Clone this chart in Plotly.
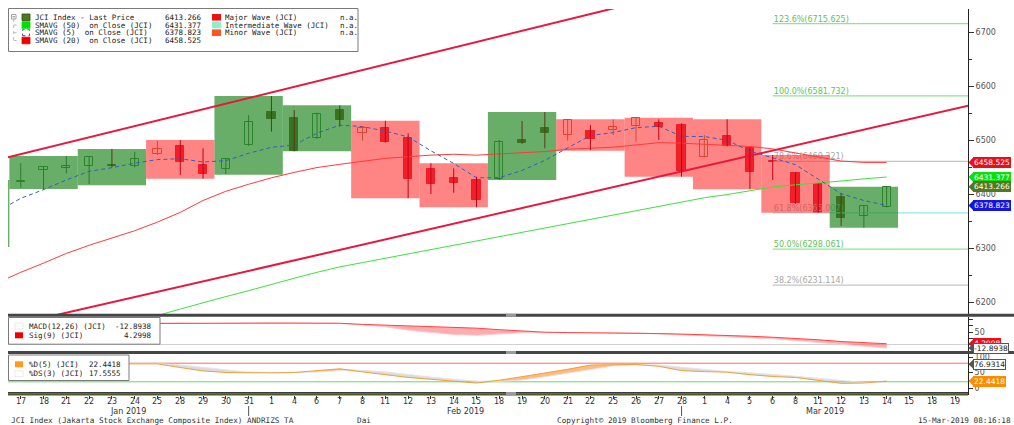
import numpy as np
import plotly.graph_objects as go

# ---------------- data ----------------
axis_days = ["17", "18", "21", "22", "23", "24", "25", "28", "29", "30", "31",
             "1", "4", "6", "7", "8", "11", "12", "13", "14", "15", "18", "19",
             "20", "21", "22", "25", "26", "27", "28",
             "1", "4", "5", "6", "8", "11", "12", "13", "14", "15", "18", "19"]

series_dates = ["2019-01-16", "2019-01-17", "2019-01-18", "2019-01-21", "2019-01-22",
                "2019-01-23", "2019-01-24", "2019-01-25", "2019-01-28", "2019-01-29",
                "2019-01-30", "2019-01-31", "2019-02-01", "2019-02-04", "2019-02-06",
                "2019-02-07", "2019-02-08", "2019-02-11", "2019-02-12", "2019-02-13",
                "2019-02-14", "2019-02-15", "2019-02-18", "2019-02-19", "2019-02-20",
                "2019-02-21", "2019-02-22", "2019-02-25", "2019-02-26", "2019-02-27",
                "2019-02-28", "2019-03-01", "2019-03-04", "2019-03-05", "2019-03-06",
                "2019-03-08", "2019-03-11", "2019-03-12", "2019-03-13", "2019-03-14"]

# candles: 2019-01-17 .. 2019-03-14
candle_open = [6423, 6444.4, 6449, 6452, 6452.5, 6451.9, 6473.5, 6488.9, 6453.1, 6445.7,
               6490.7, 6551.9, 6540.1, 6503.1, 6555.6, 6512.3, 6522.8, 6503.1, 6445.7, 6429.1,
               6425.9, 6427.8, 6500, 6521.6, 6509.3, 6517.2, 6518.5, 6526.5, 6532, 6527.8,
               6468, 6507.4, 6484.6, 6461.1, 6439.5, 6418.5, 6395, 6359.3, 6375.3]
candle_high = [6457, 6451.9, 6470.4, 6470, 6483.3, 6478.3, 6498.1, 6500, 6484.6, 6465,
               6546.3, 6581.5, 6555.6, 6550.6, 6564.3, 6525.9, 6535.7, 6512.3, 6456.9, 6447.5,
               6432, 6500, 6535.2, 6551.9, 6538.3, 6527.8, 6538.3, 6541.3, 6538.3, 6530.9,
               6509.3, 6538.3, 6484.6, 6472.2, 6440, 6419, 6401.2, 6378, 6413.5]
candle_low = [6412, 6407.4, 6438.3, 6418.5, 6449.4, 6449.4, 6472.2, 6435.2, 6428.4, 6437,
              6489, 6515.4, 6479.1, 6502, 6524.7, 6498.8, 6495, 6392, 6400, 6402.4,
              6375.4, 6426, 6493, 6484.6, 6498.8, 6481.5, 6509.3, 6496.9, 6500, 6432,
              6468, 6488, 6408.7, 6425.9, 6382, 6365.4, 6340.7, 6337.6, 6375]
candle_close = [6424, 6449.4, 6451, 6468, 6451.5, 6465.4, 6482.8, 6459.3, 6437, 6464.2,
                6533.9, 6538.3, 6480.2, 6547.5, 6537, 6521.6, 6495.7, 6427.2, 6418.5, 6419.8,
                6388.9, 6496.9, 6493.8, 6512.3, 6537, 6501.3, 6524, 6540.1, 6524.7, 6443.2,
                6500, 6488.9, 6441.3, 6458.7, 6382.8, 6365.4, 6355, 6377.8, 6413.3]

# 3-day range boxes (first one is the partly visible group before the window)
box_high = [6426, 6470.4, 6483.3, 6500, 6581.5, 6564.3, 6535.7, 6456.9, 6551.9, 6538.3,
            6541.3, 6538.3, 6472.2, 6413.5]
box_low = [6302, 6409.3, 6416.1, 6428.3, 6435.7, 6479.1, 6392.0, 6375.4, 6425.9, 6480.2,
           6432.0, 6408.7, 6365.4, 6337.6]
box_up = [1, 1, 1, 0, 1, 1, 0, 0, 1, 0, 0, 0, 0, 1]

sma5 = [6368, 6392, 6408, 6426, 6442, 6448.8, 6457.1, 6463.7, 6465.4, 6459.2,
        6461.7, 6475.4, 6486.5, 6490.7, 6512.8, 6527.4, 6524.9, 6516.4, 6505.8, 6480.0,
        6456.6, 6430.0, 6430.3, 6443.6, 6462.3, 6485.8, 6508.3, 6513.7, 6522.9, 6525.4,
        6506.7, 6506.4, 6499.4, 6479.6, 6466.4, 6454.3, 6427.4, 6400.6, 6387.9, 6378.8]
sma20 = [6236, 6255, 6272, 6290, 6305, 6318, 6332, 6348, 6366, 6388,
         6405, 6418, 6430, 6440, 6449, 6455, 6461, 6466, 6469, 6472,
         6473.6, 6471.9, 6474.2, 6476.4, 6478.6, 6482.9, 6484.7, 6486.7, 6490.8, 6495.1,
         6494.1, 6492.4, 6489.9, 6488.0, 6483.5, 6475.8, 6468.0, 6461.0, 6458.5, 6458.5]
sma50 = [6097, 6108, 6119, 6130, 6142, 6153, 6164, 6175, 6187, 6199,
         6210, 6221, 6233, 6244, 6255, 6265, 6273, 6281, 6289, 6297,
         6304, 6312, 6320, 6329, 6337, 6345, 6353, 6361, 6369, 6377,
         6385, 6393, 6399, 6406, 6413, 6417, 6420, 6424, 6428, 6431.4]

macd = [84, 84.5, 85, 85.5, 86, 86.5, 87, 87.5, 86.5, 85,
        84.5, 86, 87, 86, 86.5, 84.5, 79, 72, 58, 48,
        41, 38, 44, 48, 48.5, 49, 48.5, 47.5, 47, 43,
        38, 36, 33, 28, 24, 17, 9, 1, -5, -12.8938]
macd_sig = [83, 83.5, 84, 84.5, 85, 85.5, 86, 86.5, 86.5, 86,
            85.5, 85.5, 86, 86, 86, 85.5, 81, 78.5, 76, 73.5,
            71, 66, 60, 54, 50, 48.5, 48, 47, 46, 44.5,
            42.5, 40.5, 38, 34, 30, 26, 20, 13, 8, 4.2998]

stoch_d = [78, 78, 78, 78.5, 79, 79, 78.5, 78, 66, 55,
           50, 49, 49, 50, 56, 62, 52, 42, 34, 28,
           22, 16, 25, 36, 48, 60, 74, 76, 76, 70,
           56, 53, 51, 43, 37, 34, 24, 15, 16, 22.4418]
stoch_ds = [78.5, 78.5, 78, 78, 78.5, 79, 79, 78.5, 74, 66,
            57, 51, 49.5, 49.3, 51.5, 56, 57, 52, 43, 35,
            28, 22, 21, 26, 36, 48, 61, 71, 75, 74,
            67, 60, 53, 49, 44, 38, 31, 24, 18, 17.5555]
stoch_levels = [80, 20]

# trend channel anchors (index position, price)
chan_up_x, chan_up_y = [-1, 30], [6463.4, 6785.2]
chan_lo_x, chan_lo_y = [1, 42], [6170.5, 6567.7]

fib_pct = ["123.6%", "100.0%", "78.6%", "61.8%", "50.0%", "38.2%"]
fib_val = [6715.625, 6581.732, 6460.321, 6365.007, 6298.061, 6231.114]
fib_kind = ["g", "g", "k", "c", "g", "k"]
fib_start = 33

last_price, last_sma50, last_sma5, last_sma20 = 6413.266, 6431.377, 6378.823, 6458.525

# ---------------- helpers ----------------
L, R, T, B = 8, 968, 9, 395


def PX(px):
    return (px - L) / (R - L)


def PY(py):
    return (B - py) / (B - T)


xs = np.arange(len(series_dates)) - 1
MONO = "DejaVu Sans Mono"
SANS = "DejaVu Sans"

fig = go.Figure()

# fib levels
fib_line_col = {"g": "#8ee68e", "k": "#c4c4c4", "c": "#90e8e8"}
fib_txt_col = {"g": "#5cc45c", "k": "#a8a8a8", "c": "#a8a8a8"}
for p, v, k in zip(fib_pct, fib_val, fib_kind):
    fig.add_trace(go.Scatter(x=[fib_start, 42], y=[v, v], mode="lines",
                             line=dict(color=fib_line_col[k], width=1.3),
                             yaxis="y", hoverinfo="skip", showlegend=False))
    fig.add_trace(go.Scatter(x=[fib_start + 0.05], y=[v], mode="text",
                             text=[f"{p}({v:.3f})"], textposition="top right",
                             textfont=dict(family=SANS, size=8, color=fib_txt_col[k]),
                             yaxis="y", hoverinfo="skip", showlegend=False))

# boxes
for k in range(len(box_high)):
    g = k - 1
    x0, x1 = 3 * g - 0.5, 3 * g + 2.5
    col = "rgba(40,140,40,0.7)" if box_up[k] else "rgba(255,50,50,0.6)"
    fig.add_trace(go.Scatter(x=[x0, x1, x1, x0, x0],
                             y=[box_low[k], box_low[k], box_high[k], box_high[k], box_low[k]],
                             mode="lines", fill="toself", fillcolor=col,
                             line=dict(width=0), yaxis="y", hoverinfo="skip", showlegend=False))

# moving averages
fig.add_trace(go.Scatter(x=xs, y=sma20, mode="lines", line=dict(color="#ff3a3a", width=1),
                         yaxis="y", showlegend=False))
fig.add_trace(go.Scatter(x=xs, y=sma50, mode="lines", line=dict(color="#3ee03e", width=1),
                         yaxis="y", showlegend=False))
# channel
fig.add_trace(go.Scatter(x=chan_up_x, y=chan_up_y, mode="lines",
                         line=dict(color="#e8173e", width=2), yaxis="y", showlegend=False))
fig.add_trace(go.Scatter(x=chan_lo_x, y=chan_lo_y, mode="lines",
                         line=dict(color="#e8173e", width=2), yaxis="y", showlegend=False))
fig.add_trace(go.Scatter(x=xs, y=sma5, mode="lines",
                         line=dict(color="#3a5cb8", width=1, dash="4px,3px"),
                         yaxis="y", showlegend=False))

# candles
cat_style = {
    "gu": ("#2e7a2e", "rgba(0,0,0,0)"),
    "gd": ("#5a3a12", "#5c3b12"),
    "ru": ("#c85034", "rgba(0,0,0,0)"),
    "rd": ("#c4001a", "#e0001a"),
}
cats = {c: [] for c in cat_style}
for i in range(len(candle_open)):
    green = box_up[i // 3 + 1]
    up = candle_close[i] >= candle_open[i]
    key = ("g" if green else "r") + ("u" if up else "d")
    cats[key].append(i)

for key, idx in cats.items():
    lc, fc = cat_style[key]
    wx, wy = [], []
    for i in idx:
        wx += [i, i, None]
        wy += [candle_low[i], candle_high[i], None]
    fig.add_trace(go.Scatter(x=wx, y=wy, mode="lines", line=dict(color=lc, width=1),
                             yaxis="y", hoverinfo="skip", showlegend=False))
for key, idx in cats.items():
    lc, fc = cat_style[key]
    base = [min(candle_open[i], candle_close[i]) for i in idx]
    hgt = [max(abs(candle_close[i] - candle_open[i]), 1.5) for i in idx]
    fig.add_trace(go.Bar(x=list(idx), y=hgt, base=base, width=0.36,
                         marker=dict(color=fc, line=dict(color=lc, width=1)),
                         yaxis="y", showlegend=False, hoverinfo="skip"))

# MACD panel
fig.add_trace(go.Scatter(x=xs, y=macd_sig, mode="lines", line=dict(width=0, color="#ff4040"),
                         yaxis="y2", showlegend=False, hoverinfo="skip"))
fig.add_trace(go.Scatter(x=xs, y=macd, mode="lines", line=dict(width=0, color="#ffd0d0"),
                         fill="tonexty", fillcolor="rgba(255,90,100,0.5)",
                         yaxis="y2", showlegend=False, hoverinfo="skip"))
fig.add_trace(go.Scatter(x=xs, y=macd, mode="lines", line=dict(width=1, color="#ffc8c8"),
                         yaxis="y2", showlegend=False))
fig.add_trace(go.Scatter(x=xs, y=macd_sig, mode="lines", line=dict(width=1, color="#ff4444"),
                         yaxis="y2", showlegend=False))

# Stochastic panel
sd = np.array(stoch_d)
sds = np.array(stoch_ds)
fig.add_trace(go.Scatter(x=xs, y=sds, mode="lines", line=dict(width=0), yaxis="y3",
                         showlegend=False, hoverinfo="skip"))
fig.add_trace(go.Scatter(x=xs, y=np.maximum(sd, sds), mode="lines", line=dict(width=0),
                         fill="tonexty", fillcolor="rgba(255,150,60,0.65)", yaxis="y3",
                         showlegend=False, hoverinfo="skip"))
fig.add_trace(go.Scatter(x=xs, y=sds, mode="lines", line=dict(width=0), yaxis="y3",
                         showlegend=False, hoverinfo="skip"))
fig.add_trace(go.Scatter(x=xs, y=np.minimum(sd, sds), mode="lines", line=dict(width=0),
                         fill="tonexty", fillcolor="rgba(190,190,190,0.55)", yaxis="y3",
                         showlegend=False, hoverinfo="skip"))
fig.add_trace(go.Scatter(x=xs, y=sds, mode="lines", line=dict(width=1, color="#e4e4e4"),
                         yaxis="y3", showlegend=False))
fig.add_trace(go.Scatter(x=xs, y=sd, mode="lines", line=dict(width=1, color="#f0a040"),
                         yaxis="y3", showlegend=False))

# ---------------- layout ----------------
shapes = []
annotations = []

# stochastic reference levels
for lv, col in zip(stoch_levels, ["#ff6a6a", "#6ad86a"]):
    shapes.append(dict(type="line", xref="paper", yref="y3", x0=0, x1=1, y0=lv, y1=lv,
                       line=dict(color=col, width=1), layer="below"))


def rect(x0, y0, x1, y1, fill, line_col=None, lw=0, dash=None):
    ln = dict(width=lw, color=line_col or fill)
    if dash:
        ln["dash"] = dash
    shapes.append(dict(type="rect", xref="paper", yref="paper", x0=PX(x0), x1=PX(x1),
                       y0=PY(y1), y1=PY(y0), fillcolor=fill, line=ln, layer="above"))


def txt(x, y, s, size=7.5, anchor="left", color="#222", family=MONO):
    annotations.append(dict(xref="paper", yref="paper", x=PX(x), y=PY(y), text=s,
                            showarrow=False, xanchor=anchor, yanchor="middle",
                            font=dict(family=family, size=size, color=color)))


# panel separators
rect(8, 313.8, 1014, 316.8, "#454545")
rect(8, 351.0, 1014, 354.0, "#454545")
rect(8, 392.0, 968, 393.8, "#3c3c3c")
rect(8, 393.8, 968, 395.4, "#4e5a2a")
for yy in [(313.8, 316.8), (351.0, 354.0), (392.0, 395.4)]:
    rect(506, yy[0], 516, yy[1], "#9a9a9a")

# main legend
rect(8.5, 8.5, 358, 51.5, "white", "#7a7a7a", 1)
rect(11.5, 14.5, 16, 19, "white", "#8a8a8a", 0.8)
shapes.append(dict(type="line", xref="paper", yref="paper", x0=PX(12.5), x1=PX(15),
                   y0=PY(16.8), y1=PY(16.8), line=dict(color="#666", width=0.8), layer="above"))
shapes.append(dict(type="line", xref="paper", yref="paper", x0=PX(13.7), x1=PX(13.7),
                   y0=PY(19), y1=PY(40.5), line=dict(color="#aaa", width=0.8, dash="dot"),
                   layer="above"))
rows = [17.3, 25.0, 32.7, 40.5]
for r in rows[1:]:
    shapes.append(dict(type="line", xref="paper", yref="paper", x0=PX(13.7), x1=PX(20),
                       y0=PY(r), y1=PY(r), line=dict(color="#aaa", width=0.8, dash="dot"),
                       layer="above"))
left_items = [("#4d7a1f", "JCI Index - Last Price", f"{last_price:.3f}"),
              ("#00e000", "SMAVG (50)  on Close (JCI)", f"{last_sma50:.3f}"),
              (None, "SMAVG (5)  on Close (JCI)", f"{last_sma5:.3f}"),
              ("#ee0000", "SMAVG (20)  on Close (JCI)", f"{last_sma20:.3f}")]
for r, (c, s, v) in zip(rows, left_items):
    if c is None:
        rect(22.5, r - 3, 29.5, r + 3, "rgba(0,0,0,0)", "#3050d0", 1, "dot")
    else:
        rect(22, r - 3.3, 30, r + 3.3, c, "#2a4a10" if c == "#4d7a1f" else c, 0.8)
    txt(33, r, s)
    txt(163, r, v)
right_items = [("#ee1111", "Major Wave (JCI)"),
               ("#8eeecc", "Intermediate Wave (JCI)"),
               ("#ff5522", "Minor Wave (JCI)")]
for r, (c, s) in zip(rows, right_items):
    rect(212, r - 3.3, 221, r + 3.3, c)
    txt(223, r, s)
    txt(338, r, "n.a.")

# MACD legend
rect(8.5, 317.5, 160, 344.2, "white", "#7a7a7a", 1)
rect(15, 323, 23, 329, "white", "#dddddd", 0.6)
rect(15, 332.3, 23, 338.3, "#ee0000")
txt(27, 326, "MACD(12,26) (JCI)")
txt(154, 326, f"{macd[-1]:.4f}", anchor="right")
txt(27, 335.3, "Sig(9) (JCI)")
txt(154, 335.3, f"{macd_sig[-1]:.4f}", anchor="right")

# stoch legend
rect(8.5, 355.0, 129, 380.5, "white", "#7a7a7a", 1)
rect(15, 361.3, 23, 367.3, "#ff9a1a")
rect(15, 370.7, 23, 376.7, "white", "#dddddd", 0.6)
txt(27, 364.3, "%D(5) (JCI)")
txt(123, 364.3, f"{stoch_d[-1]:.4f}", anchor="right")
txt(27, 373.7, "%DS(3) (JCI)")
txt(123, 373.7, f"{stoch_ds[-1]:.4f}", anchor="right")


# right-side value tags
def tag(val, yref, half, text, bg, fg="white", border=None):
    shapes.append(dict(type="path", xref="paper", yref=yref,
                       path=f"M {PX(968.5)},{val} L {PX(973)},{val + half} L {PX(973)},{val - half} Z",
                       fillcolor=border or bg, line=dict(width=0), layer="above"))
    annotations.append(dict(xref="paper", yref=yref, x=PX(972.5), y=val, text=text,
                            showarrow=False, xanchor="left", yanchor="middle",
                            bgcolor=bg, bordercolor=border or bg, borderwidth=1, borderpad=0,
                            font=dict(family=SANS, size=7.5, color=fg)))


tag(last_sma20, "y", 8.5, f"{last_sma20:.3f}", "#e8101c")
tag(last_sma50, "y", 8.5, f"{last_sma50:.3f}", "#10dd10")
tag(last_price, "y", 8.5, f"{last_price:.3f}", "#4f7a20")
tag(last_sma5, "y", 8.5, f"{last_sma5:.3f}", "#1414e0")
tag(macd_sig[-1], "y2", 17, f"{macd_sig[-1]:.4f}", "#e8101c")
tag(macd[-1], "y2", 17, f"{macd[-1]:.4f}", "white", "#222", "#555555")
tag(76.9314, "y3", 14, "76.9314", "white", "#222", "#555555")
tag(stoch_d[-1], "y3", 14, f"{stoch_d[-1]:.4f}", "#ff8c00")

# x tick labels (day numbers) placed just under the tick marks
for i, s in enumerate(axis_days):
    annotations.append(dict(xref="x", yref="paper", x=i, y=PY(401.8), text=s,
                            showarrow=False, xanchor="center", yanchor="middle",
                            font=dict(family=SANS, size=8, color="#333")))

# month labels and separators
for pos, s in [(4.7, "Jan 2019"), (19.5, "Feb 2019"), (35.3, "Mar 2019")]:
    annotations.append(dict(xref="x", yref="paper", x=pos, y=PY(411.8), text=s,
                            showarrow=False, xanchor="center", yanchor="middle",
                            font=dict(family=SANS, size=8, color="#333")))
for pos in [10, 29]:
    shapes.append(dict(type="line", xref="x", yref="paper", x0=pos, x1=pos,
                       y0=PY(406), y1=PY(416), line=dict(color="#555", width=1)))

# footer
txt(9, 420.5, "JCI Index (Jakarta Stock Exchange Composite Index) ANDRIZS TA", 7.7, color="#333")
txt(355, 420.5, "Dai", 7.7, color="#333")
txt(555, 420.5, "Copyright\u00a9 2019 Bloomberg Finance L.P.", 7.7, color="#333")
txt(1013, 420.5, "15-Mar-2019 08:16:18", 7.7, anchor="right", color="#333")

y_main = (6500 + (140 - 314) * 100 / 54, 6500 + (140 - 9) * 100 / 54)
y_macd = ((344.8 - 351) / 0.252, (344.8 - 317) / 0.252)
y_sto = ((388 - 395) / 0.31, (388 - 354) / 0.31)

axis_common = dict(side="right", anchor="x", showgrid=False, zeroline=False,
                   showline=True, linecolor="#222", linewidth=1, ticks="outside",
                   tickcolor="#333", tickfont=dict(family=SANS, size=8, color="#555"))

fig.update_layout(
    width=1014, height=425, autosize=False,
    margin=dict(l=L, r=1014 - R, t=T, b=425 - B, pad=0),
    paper_bgcolor="white", plot_bgcolor="white",
    showlegend=False, barmode="overlay", bargap=0,
    xaxis=dict(domain=[0, 1], range=[-0.56, 41.57], anchor="y3",
               tickmode="array", tickvals=list(range(len(axis_days))),
               showticklabels=False,
               ticks="outside", ticklen=3, tickcolor="#333", showgrid=False, zeroline=False,
               showline=False),
    yaxis=dict(domain=[PY(314), PY(9)], range=list(y_main), tickmode="linear",
               tick0=6200, dtick=100, ticklen=5, tickformat="d",
               minor=dict(dtick=50, ticklen=3, ticks="outside", tickcolor="#333"),
               **axis_common),
    yaxis2=dict(domain=[PY(351), PY(317)], range=list(y_macd), tickmode="array",
                tickvals=[0, 25, 50, 75, 100], ticktext=["", "", "50", "", ""], ticklen=4,
                **{k: v for k, v in axis_common.items() if k != "zeroline"},
                zeroline=True, zerolinecolor="#d0d0d0", zerolinewidth=1),
    yaxis3=dict(domain=[PY(395), PY(354)], range=list(y_sto), tickmode="array",
                tickvals=[0, 25, 50, 75, 100], ticktext=["0", "", "50", "", "100"], ticklen=4,
                **axis_common),
    shapes=shapes,
    annotations=annotations,
)

fig.write_html("out.html", config={"displayModeBar": False},
               post_script="document.body.style.margin='0px';document.body.style.overflow='hidden';")
